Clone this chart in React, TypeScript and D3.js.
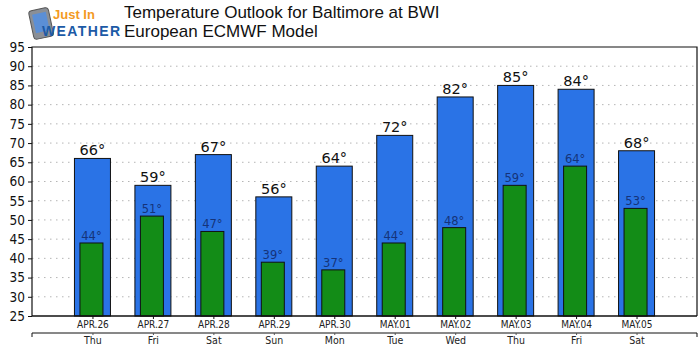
import React, { useEffect, useRef } from "react";
import * as d3 from "d3";

const dates = ["APR.26", "APR.27", "APR.28", "APR.29", "APR.30", "MAY.01", "MAY.02", "MAY.03", "MAY.04", "MAY.05"];
const days = ["Thu", "Fri", "Sat", "Sun", "Mon", "Tue", "Wed", "Thu", "Fri", "Sat"];
const highs = [66, 59, 67, 56, 64, 72, 82, 85, 84, 68];
const lows = [44, 51, 47, 39, 37, 44, 48, 59, 64, 53];
const yTicks = [25, 30, 35, 40, 45, 50, 55, 60, 65, 70, 75, 80, 85, 90, 95];

const W = 700;
const H = 354;

const App: React.FC = () => {
  const svgRef = useRef<SVGSVGElement | null>(null);

  useEffect(() => {
    if (!svgRef.current) return;
    const svg = d3.select(svgRef.current);
    svg.selectAll("*").remove();

    const left = 32;
    const right = 697;
    const top = 47;
    const bottom = 316;

    const x = d3.scaleLinear().domain([0, dates.length + 1]).range([left, right]);
    const y = d3.scaleLinear().domain([25, 95]).range([bottom, top]);

    // logo
    const logo = svg.append("g");
    logo.append("rect").attr("x", 31).attr("y", 9).attr("width", 20).attr("height", 29)
      .attr("rx", 3).attr("fill", "#8a8f96").attr("stroke", "#555").attr("stroke-width", 1)
      .attr("transform", "rotate(-12 41 23)");
    logo.append("rect").attr("x", 34).attr("y", 13).attr("width", 14).attr("height", 19)
      .attr("fill", "#5b8fd6").attr("transform", "rotate(-12 41 23)");
    logo.append("text").attr("x", 53).attr("y", 19).text("Just In")
      .attr("font-family", "Liberation Sans, Arial, sans-serif").attr("font-weight", "bold")
      .attr("font-size", 13).attr("fill", "#f39a1f");
    logo.append("text").attr("x", 42).attr("y", 36).text("WEATHER")
      .attr("font-family", "Liberation Sans, Arial, sans-serif").attr("font-weight", "bold")
      .attr("font-size", 14).attr("fill", "#1c5aa6").attr("textLength", 78);

    // title
    const title = svg.append("g").attr("font-family", "Liberation Sans, Arial, sans-serif")
      .attr("font-size", 17).attr("fill", "#111");
    title.append("text").attr("x", 124).attr("y", 18).text("Temperature Outlook for Baltimore at BWI");
    title.append("text").attr("x", 124).attr("y", 37).text("European ECMWF Model");

    // grid
    svg.append("g").selectAll("line").data(yTicks.filter((t) => t > 25 && t < 95)).enter()
      .append("line")
      .attr("x1", left).attr("x2", right)
      .attr("y1", (d) => y(d)).attr("y2", (d) => y(d))
      .attr("stroke", "#b5b5b5").attr("stroke-width", 1).attr("stroke-dasharray", "1.5,4.5");

    // bars
    const bw = 36;
    const gw = 23;
    svg.append("g").selectAll("rect").data(highs).enter().append("rect")
      .attr("x", (d, i) => x(i + 1) - bw / 2)
      .attr("y", (d) => y(d))
      .attr("width", bw)
      .attr("height", (d) => bottom - y(d))
      .attr("fill", "#2a73e6").attr("stroke", "#111").attr("stroke-width", 1);

    svg.append("g").selectAll("rect").data(lows).enter().append("rect")
      .attr("x", (d, i) => x(i + 1) - gw / 2 - 1)
      .attr("y", (d) => y(d))
      .attr("width", gw)
      .attr("height", (d) => bottom - y(d))
      .attr("fill", "#138c17").attr("stroke", "#111").attr("stroke-width", 1);

    svg.append("g").selectAll("text").data(highs).enter().append("text")
      .attr("x", (d, i) => x(i + 1))
      .attr("y", (d) => y(d) - 3)
      .attr("text-anchor", "middle")
      .attr("font-family", "DejaVu Sans, sans-serif").attr("font-size", 14.5).attr("fill", "#111")
      .text((d) => `${d}°`);

    svg.append("g").selectAll("text").data(lows).enter().append("text")
      .attr("x", (d, i) => x(i + 1) - 1)
      .attr("y", (d) => y(d) - 3)
      .attr("text-anchor", "middle")
      .attr("font-family", "DejaVu Sans, sans-serif").attr("font-size", 11.5).attr("fill", "#15337a")
      .text((d) => `${d}°`);

    // frame
    svg.append("path")
      .attr("d", `M${left},${bottom}V${top}H${right}V${bottom}`)
      .attr("fill", "none").attr("stroke", "#111").attr("stroke-width", 1.2);

    // y axis
    const yAxis = svg.append("g").attr("transform", `translate(${left},0)`)
      .call(d3.axisLeft(y).tickValues(yTicks).tickSize(4).tickPadding(3).tickFormat(d3.format("d")));
    yAxis.select(".domain").remove();
    yAxis.selectAll("text").attr("font-family", "DejaVu Sans Condensed, sans-serif")
      .attr("font-size", 13.5).attr("fill", "#111");
    yAxis.selectAll("line").attr("stroke", "#111");

    // x axis (dates)
    const xAxis = svg.append("g").attr("transform", `translate(0,${bottom})`)
      .call(d3.axisBottom(x).tickValues(d3.range(1, dates.length + 1)).tickSize(3).tickPadding(2)
        .tickFormat((d) => dates[(d as number) - 1]));
    xAxis.select(".domain").attr("stroke", "#111").attr("stroke-width", 1.5).attr("d", `M${left},0H${right}`);
    xAxis.selectAll("line").attr("stroke", "#111");
    xAxis.selectAll("text").attr("font-family", "DejaVu Sans Condensed, sans-serif")
      .attr("font-size", 10).attr("fill", "#222");

    // x axis (days)
    const dAxis = svg.append("g").attr("transform", `translate(0,333)`)
      .call(d3.axisBottom(x).tickValues(d3.range(1, dates.length + 1)).tickSize(2).tickPadding(2)
        .tickFormat((d) => days[(d as number) - 1]));
    dAxis.select(".domain").attr("stroke", "#111").attr("d", `M${left},4V0H${right}V4`);
    dAxis.selectAll("line").attr("stroke", "#555");
    dAxis.selectAll("text").attr("font-family", "DejaVu Sans Condensed, sans-serif")
      .attr("font-size", 10.5).attr("fill", "#222");
  }, []);

  return (
    <svg ref={svgRef} width={W} height={H} style={{ position: "absolute", left: 0, top: 0, background: "#fff" }} />
  );
};

export default App;
